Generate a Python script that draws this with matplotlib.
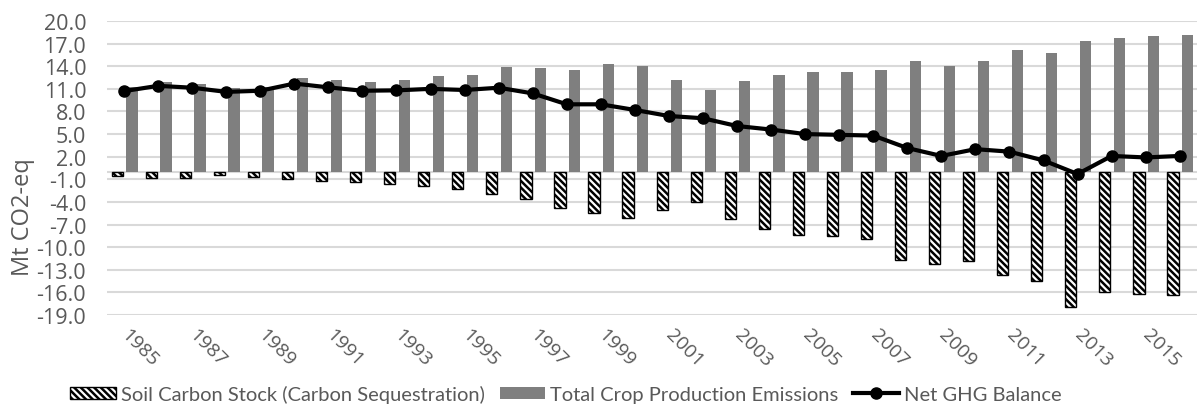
import numpy as np
import matplotlib.pyplot as plt
from matplotlib.lines import Line2D
from matplotlib.patches import Patch

# --- Datos (Mt CO2-eq) ---
years = list(range(1985, 2017))

soil_carbon = [-0.55, -0.8, -0.8, -0.47, -0.73, -1.0, -1.27, -1.35, -1.6, -1.9,
               -2.35, -3.0, -3.6, -4.75, -5.5, -6.1, -5.07, -4.05, -6.3, -7.55,
               -8.4, -8.56, -8.96, -11.75, -12.2, -11.9, -13.65, -14.5, -18.0, -15.9,
               -16.2, -16.3]

crop_emissions = [11.2, 11.9, 11.7, 11.1, 11.3, 12.5, 12.2, 11.9, 12.2, 12.7,
                  12.9, 13.9, 13.8, 13.5, 14.3, 14.0, 12.2, 10.9, 12.1, 12.9,
                  13.2, 13.3, 13.5, 14.7, 14.0, 14.7, 16.15, 15.8, 17.4, 17.8,
                  18.0, 18.1]

net_ghg = [10.7, 11.4, 11.15, 10.6, 10.75, 11.7, 11.2, 10.75, 10.8, 11.0,
           10.85, 11.15, 10.4, 8.95, 8.95, 8.2, 7.4, 7.1, 6.07, 5.6,
           5.0, 4.9, 4.8, 3.15, 2.1, 3.0, 2.67, 1.5, -0.3, 2.1,
           1.9, 2.1]

y_ticks = np.arange(-19, 21, 3)

plt.rcParams['font.family'] = ['Open Sans', 'DejaVu Sans']
plt.rcParams['hatch.linewidth'] = 1.8
plt.rcParams['hatch.color'] = 'black'

gris_texto = '#595959'
x = np.arange(len(years))
ancho = 0.33
rayado = '\\' * 5

fig = plt.figure(figsize=(12.04, 4.10), dpi=100)
ax = fig.add_axes([0.0889, 0.2293, 0.9051, 0.717])

ax.bar(x - 0.2, soil_carbon, width=ancho, facecolor='white', edgecolor='black',
       hatch=rayado, linewidth=1.0, zorder=3)
ax.bar(x + 0.23, crop_emissions, width=ancho, color='#7f7f7f', zorder=3)
ax.plot(x, net_ghg, color='black', linewidth=3, marker='o', markersize=8, zorder=4)

ax.set_xlim(-0.5, len(years) - 0.5)
ax.set_ylim(-19, 20)
ax.set_yticks(y_ticks)
ax.set_yticklabels([f'{v:.1f}' for v in y_ticks], fontsize=15.5, color=gris_texto)
ax.yaxis.grid(True, color='#d9d9d9', linewidth=1.5, zorder=0)
ax.axhline(0, color='#d9d9d9', linewidth=1.5, zorder=1)
ax.tick_params(axis='y', length=0, pad=15)

ax.set_xticks(x[::2])
ax.set_xticklabels([str(a) for a in years[::2]], fontsize=14, color=gris_texto,
                   rotation=-45, ha='left', va='center', rotation_mode='anchor')
ax.tick_params(axis='x', length=0, pad=12)

for s in ax.spines.values():
    s.set_visible(False)

ax.set_ylabel('Mt CO2-eq', fontsize=17, color=gris_texto)
ax.yaxis.set_label_coords(-0.066, 0.337)

handles = [
    Patch(facecolor='white', edgecolor='black', hatch=rayado, linewidth=1.0),
    Patch(facecolor='#7f7f7f'),
    Line2D([0], [0], color='black', linewidth=3, marker='o', markersize=8),
]
labels = ['Soil Carbon Stock (Carbon Sequestration)',
          'Total Crop Production Emissions', 'Net GHG Balance']
leg = fig.legend(handles, labels, loc='center', bbox_to_anchor=(0.47, 0.037), ncol=3,
                 frameon=False, handlelength=2.25, handleheight=0.55, handletextpad=0.25,
                 columnspacing=0.75,
                 prop={'family': ['Lato', 'DejaVu Sans'], 'size': 14.5})
for t in leg.get_texts():
    t.set_color(gris_texto)

fig.savefig('out.png', dpi=100)
